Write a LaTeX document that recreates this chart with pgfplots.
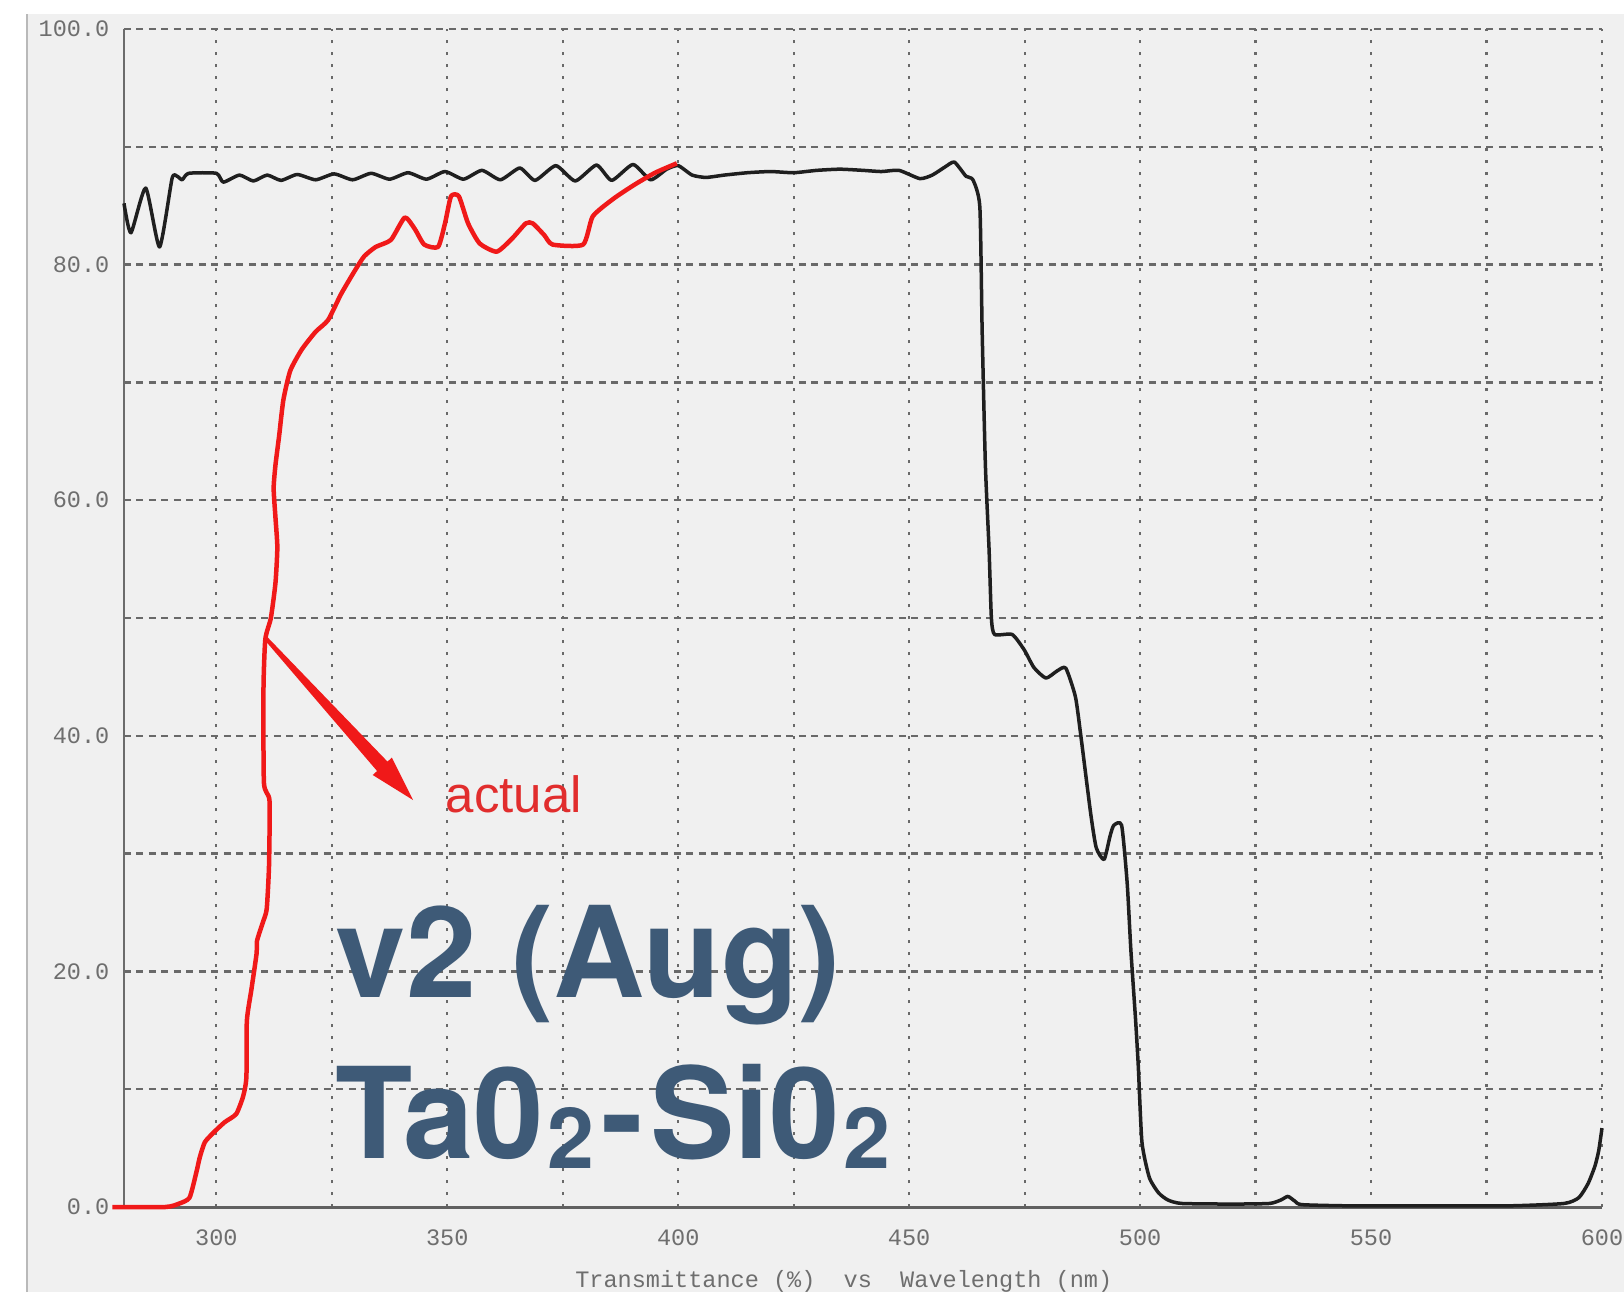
\documentclass[border=0pt]{standalone}
\usepackage{fontspec}
\setmainfont{Liberation Sans}
\newfontfamily\ticksfont{Liberation Mono}
\newfontfamily\bigfont{TeX Gyre Heros}
\usepackage{pgfplots}
\pgfplotsset{compat=1.18}

\definecolor{panel}{RGB}{240,240,240}
\definecolor{gridc}{RGB}{105,105,105}
\definecolor{ticktext}{RGB}{110,110,110}
\definecolor{curvered}{RGB}{240,25,25}
\definecolor{labelred}{RGB}{225,45,45}
\definecolor{slate}{RGB}{62,90,119}

\begin{document}
\begin{tikzpicture}
\clip (-12.4mm,-8.5mm) rectangle (150mm,120.7mm);
\fill[white] (-12.4mm,-8.5mm) rectangle (150mm,120.7mm);
\fill[panel] (-9.7mm,-8.5mm) rectangle (150mm,119.3mm);
\draw[gray!55, line width=0.15mm] (-9.7mm,-8.5mm) -- (-9.7mm,119.3mm);

\begin{axis}[
  at={(0,0)}, anchor=south west,
  scale only axis, width=147.8mm, height=117.8mm,
  xmin=280, xmax=600, ymin=0, ymax=100,
  clip=false,
  axis lines*=left,
  x axis line style={gray!75!black, line width=0.3mm},
  y axis line style={gray!85!black, line width=0.15mm},
  tick style={draw=none},
  xtick={300,350,...,600}, minor xtick={325,375,...,575},
  ytick={0,20,...,100}, minor ytick={10,30,...,90},
  grid=both,
  major x grid style={gridc, line width=0.22mm, dash pattern=on 0.35mm off 0.85mm},
  minor x grid style={gridc, line width=0.22mm, dash pattern=on 0.35mm off 0.85mm},
  major y grid style={gridc, line width=0.25mm, dash pattern=on 0.7mm off 0.55mm},
  minor y grid style={gridc, line width=0.25mm, dash pattern=on 0.7mm off 0.55mm},
  /pgf/number format/assume math mode=true,
  ticklabel style={text=ticktext, font=\ticksfont\fontsize{6.7}{7}\selectfont},
  xticklabel style={anchor=center, yshift=-3.1mm},
  yticklabel style={anchor=east, inner sep=0pt, xshift=-1.4mm,
    /pgf/number format/fixed, /pgf/number format/fixed zerofill,
    /pgf/number format/precision=1},
  xlabel={Transmittance (\%)~~vs~~Wavelength (nm)},
  xlabel style={at={(axis description cs:0.487,0)}, anchor=center,
    yshift=-7.4mm, inner sep=0pt, text=ticktext,
    font=\ticksfont\fontsize{6.7}{7}\selectfont},
]
% design / measured curve
\addplot[black!88, line width=0.35mm, line join=round, smooth, tension=0.35] table {
x y
280 85.2
281.5 82.7
284.7 86.5
287.7 81.5
290.4 87.3
291.5 87.5
292.6 87.2
294 87.75
300 87.75
301.5 87.0
305 87.6
308 87.1
311 87.6
314 87.15
317.5 87.65
321.5 87.2
325.5 87.7
329.5 87.2
333.5 87.75
337.5 87.25
341.5 87.8
345.5 87.25
349.5 87.9
353.5 87.25
357.5 88.0
361.5 87.2
365.7 88.2
369 87.15
373.5 88.4
377.7 87.1
382.3 88.45
385.6 87.15
390.2 88.5
394 87.2
397.5 88.1
400 88.4
403 87.6
406 87.4
410 87.6
415 87.8
420 87.9
425 87.8
430 88.0
435 88.1
440 88.0
444 87.9
447.8 88.0
452.3 87.3
455 87.6
457.8 88.3
459.8 88.7
462.3 87.5
463.8 87.2
465.3 84.9
465.8 74.4
466.5 63
467.3 55.8
467.8 50
468.5 48.6
472.3 48.6
474.9 47.3
477 45.8
479.6 44.9
482 45.5
483.9 45.75
486 43.3
487.2 39.9
489.3 33.4
490.5 30.5
492.2 29.5
493.5 31.5
494.3 32.4
496 32.4
497.2 27.5
498 21.8
499 16
499.6 12
500.4 5.5
502 2.5
504 1.2
506 0.6
509 0.3
520 0.25
528 0.3
530.5 0.6
532 0.9
533.5 0.5
535 0.2
545 0.1
560 0.1
580 0.1
591.8 0.3
595 0.8
597 2.0
598.5 3.5
599.3 4.8
600 6.7
};
% actual
\addplot[curvered, line width=0.45mm, line join=round, smooth, tension=0.35] table {
x y
277.5 0
289 0
292 0.3
294.2 0.8
295.7 3.0
296.4 4.2
297.5 5.5
299.6 6.4
301.8 7.2
304.3 7.9
305.8 9.4
306.5 11
306.6 15.8
307.6 18.5
308.7 21.5
308.8 22.6
310.1 24.2
310.9 25.3
311.4 29
311.5 34.5
310.3 36
310.2 44
310.6 48.2
311.8 50
312.8 53
313.2 56
312.8 58.5
312.4 61
312.8 63
313.6 65.5
314.5 68.5
316 71
318.5 72.8
321.5 74.3
324.2 75.3
327 77.5
330 79.5
332 80.7
334.5 81.5
337.8 82.1
340.8 84.0
343 83.0
345 81.7
348 81.5
349.5 83.5
350.8 85.8
352.5 85.8
354.5 83.5
357 81.8
360.7 81.1
364 82.2
367 83.5
368.5 83.5
371 82.5
372.8 81.7
379.4 81.7
381.5 84.1
386 85.6
390.6 86.8
395 87.8
399.7 88.6
};
\end{axis}

% annotation arrow
\fill[curvered] (14.40mm,56.93mm) -- (26.35mm,44.54mm) -- (26.79mm,44.94mm)
  -- (28.90mm,40.70mm) -- (24.87mm,43.20mm) -- (25.31mm,43.60mm)
  -- (14.10mm,56.67mm) -- cycle;
\node[anchor=base west, inner sep=0pt, text=labelred,
  font=\fontsize{14.5}{16}\selectfont] at (32.1mm,39.5mm) {actual};

\node[anchor=base west, inner sep=0pt, text=slate,
  font=\bigfont\bfseries\fontsize{36}{36}\selectfont] at (21.1mm,21.0mm) {v2 (Aug)};
\node[anchor=base west, inner sep=0pt, text=slate,
  font=\bigfont\bfseries\fontsize{36}{36}\selectfont] at (21.1mm,4.9mm)
  {Ta0\kern0.3mm\raisebox{-1mm}{\fontsize{24}{24}\selectfont 2}\kern0.7mm-\kern0.7mm Si0\kern0.3mm\raisebox{-1mm}{\fontsize{24}{24}\selectfont 2}};
\end{tikzpicture}
\end{document}
